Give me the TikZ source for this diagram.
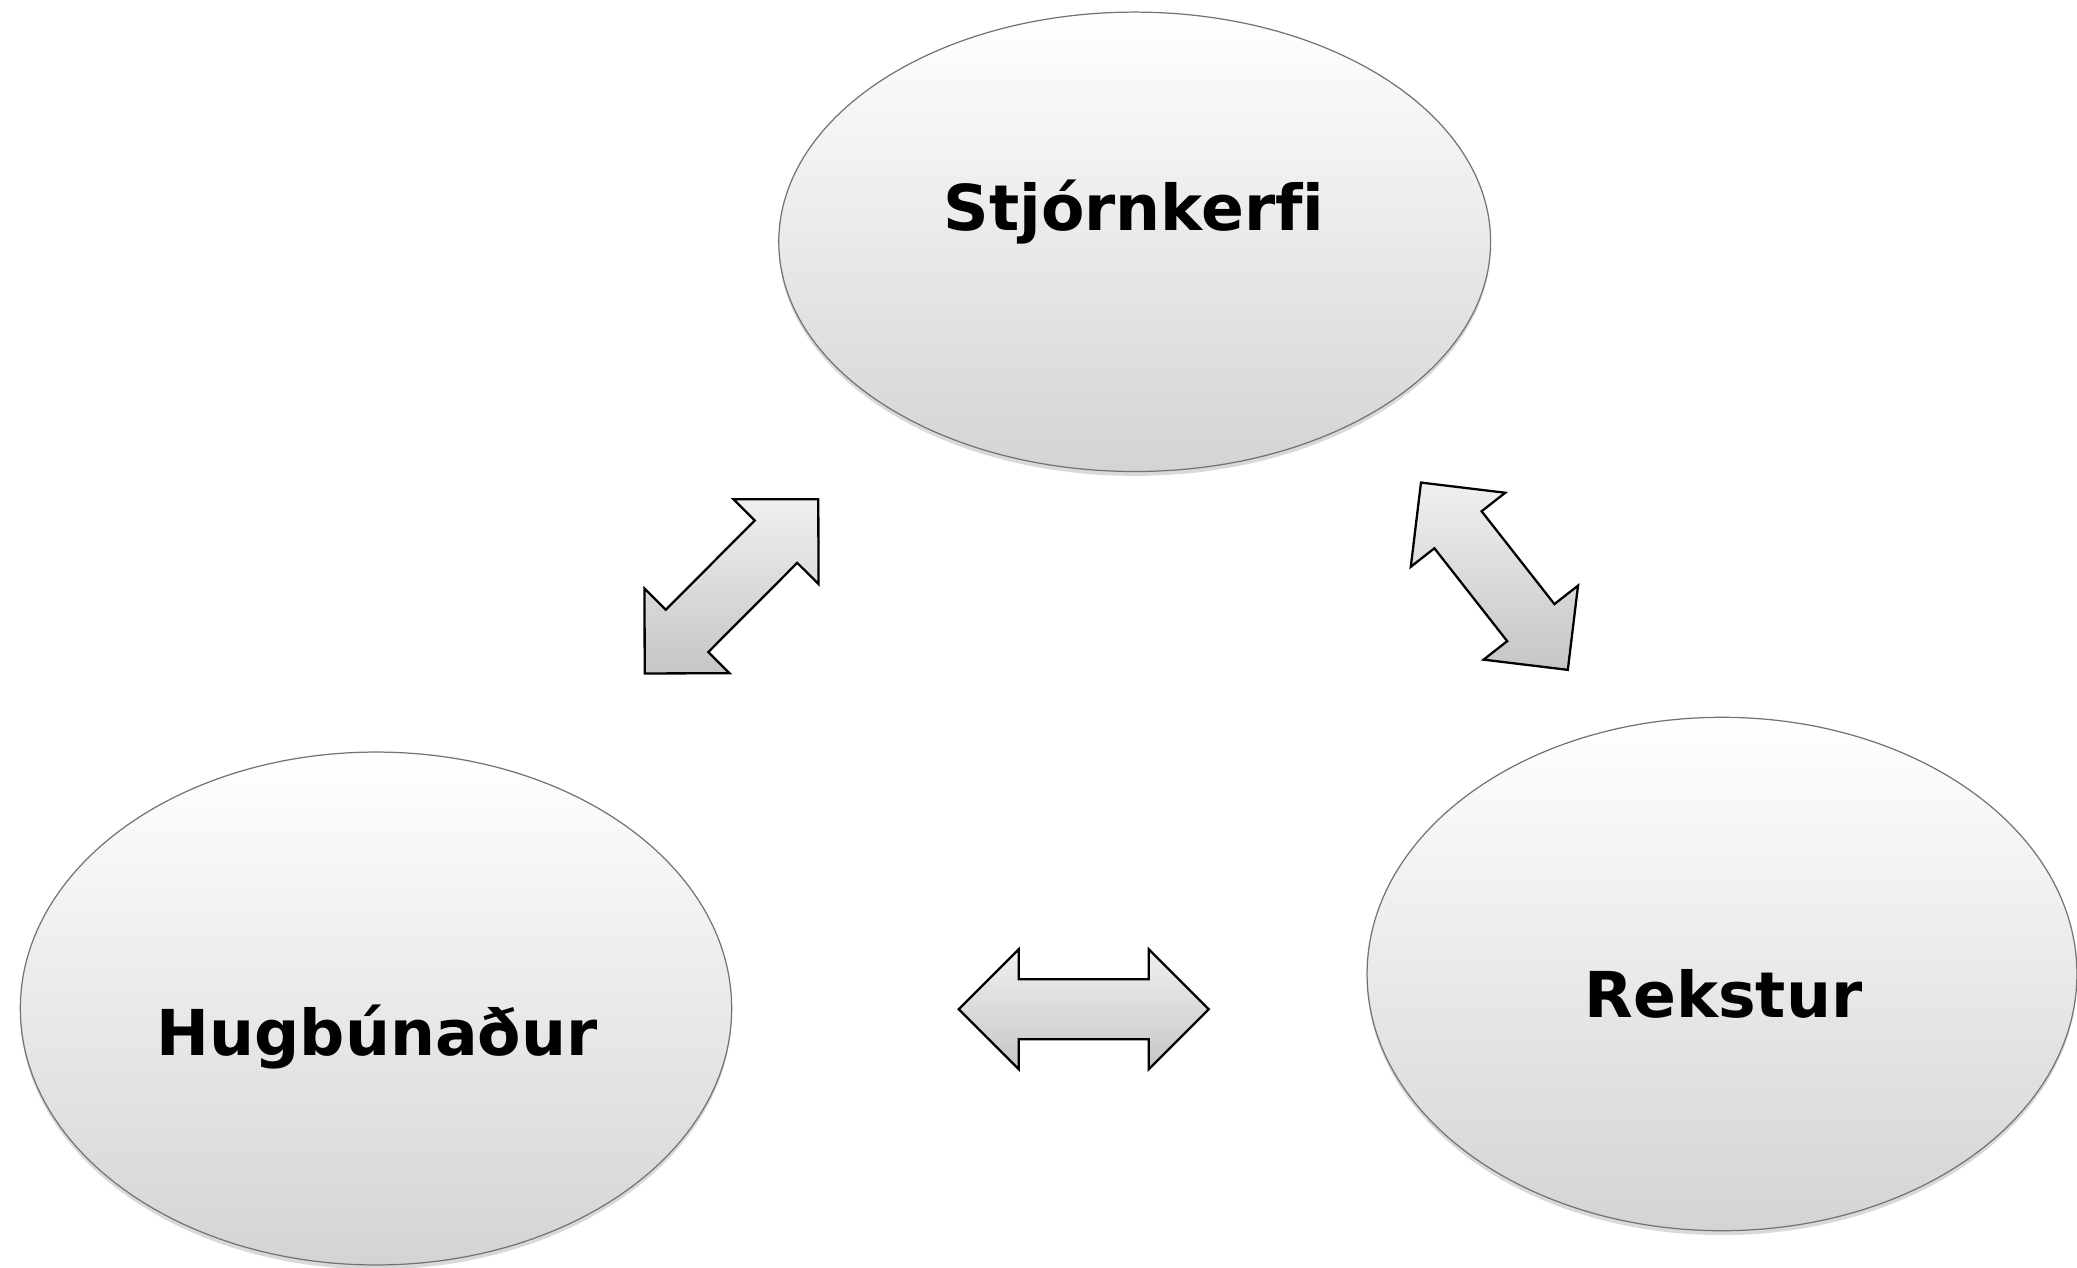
\documentclass[tikz,border=0pt]{standalone}
\usepackage{fontspec}
\newfontfamily\labelfont{DejaVu Sans}[Ligatures=NoCommon]
\colorlet{BubbleTop}{white}
\colorlet{BubbleBottom}{gray!34}
\colorlet{BubbleEdge}{black!55}
\colorlet{ArrowTop}{gray!12}
\colorlet{ArrowBottom}{gray!45}
\usetikzlibrary{shapes.geometric, shadows}

\tikzset{
  bubble/.style = {ellipse, draw = BubbleEdge, line width = 0.7pt,
    top color = BubbleTop, bottom color = BubbleBottom, inner sep = 0pt,
    drop shadow = {opacity = 0.3, shadow xshift = 0pt, shadow yshift = -2.5pt}},
  bubbletext/.style = {anchor = base, inner sep = 0pt,
    font = \labelfont\bfseries\fontsize{36}{43}\selectfont},
  pics/twoway/.style = {code = {
    \draw[draw = black, line width = 1.3pt, line join = miter,
        top color = ArrowTop, bottom color = ArrowBottom]
      (-#1, 0) -- (-#1+60, -60) -- (-#1+60, -30) -- (#1-60, -30) -- (#1-60, -60)
      -- (#1, 0) -- (#1-60, 60) -- (#1-60, 30) -- (-#1+60, 30) -- (-#1+60, 60) -- cycle;
  }}
}

\begin{document}
\begin{tikzpicture}[x = 0.02cm, y = -0.02cm]
\useasboundingbox (0, 0) rectangle (2077, 1268);

\node[bubble, minimum width = 14.24cm, minimum height = 9.19cm] (stjorn) at (1134.7, 241.8) {};
\node[bubble, minimum width = 14.23cm, minimum height = 10.26cm] (hugb) at (376, 1008.5) {};
\node[bubble, minimum width = 14.2cm, minimum height = 10.27cm] (rekst) at (1722, 974) {};

\node[bubbletext] (stjornlabel) at (1134, 230.5) {Stjórnkerfi};
\node[bubbletext] (hugblabel) at (377, 1055) {Hugbúnaður};
\node[bubbletext] (rekstlabel) at (1723.5, 1017.3) {Rekstur};

\coordinate (leftmid) at (731.5, 586.3);
\coordinate (rightmid) at (1494.4, 576.2);
\coordinate (bottommid) at (1083.7, 1009.3);
\path (leftmid) pic[rotate = 45.1] {twoway = 123};
\path (rightmid) pic[rotate = -51.9] {twoway = 119};
\path (bottommid) pic {twoway = 125};

\end{tikzpicture}
\end{document}
